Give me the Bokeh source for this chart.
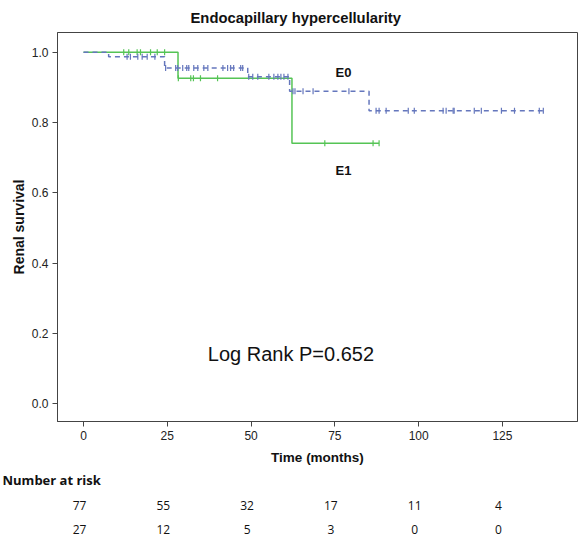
import math
from bokeh.plotting import figure
from bokeh.layouts import column
from bokeh.models import Range1d, Label, FixedTicker
from bokeh.core.properties import value
from bokeh.embed import file_html
from bokeh.resources import INLINE

# Kaplan-Meier steps
e0_times = [0, 7.5, 24.2, 49.0, 61.5, 85.2, 137.5]
e0_surv = [1.0, 0.987, 0.955, 0.930, 0.889, 0.833, 0.833]
e1_times = [0, 28.2, 62.2, 88.2]
e1_surv = [1.0, 0.926, 0.741, 0.741]

# censor marks
e0_cens_t = [13.0, 14.0, 16.2, 17.5, 19.0, 21.3,
             24.5, 27.5, 28.1, 29.6, 30.8, 31.4, 32.9, 34.1, 35.9, 37.1, 41.6, 43.0, 43.9, 44.8, 46.9, 47.5,
             49.3, 50.5, 52.0, 55.3, 56.8, 58.0, 58.9, 59.8, 61.0,
             62.5, 63.1, 65.5, 68.5, 79.2,
             87.3, 88.2, 90.3, 96.9, 98.7, 107.3, 108.2, 110.3, 110.6, 116.6, 118.7, 124.7, 128.6, 136.0, 137.2]
e0_cens_s = [0.987] * 6 + [0.955] * 16 + [0.930] * 9 + [0.889] * 5 + [0.833] * 15
e1_cens_t = [12.0, 13.5, 16.0, 17.0, 20.0, 22.0, 24.2,
             28.3, 32.0, 32.8, 34.9, 40.0,
             72.0, 86.4, 88.2]
e1_cens_s = [1.0] * 7 + [0.926] * 5 + [0.741] * 3

# number at risk
risk_times = [0, 25, 50, 75, 100, 125]
risk_e0 = ["77", "55", "32", "17", "11", "4"]
risk_e1 = ["27", "12", "5", "3", "0", "0"]

x_ticks = [0, 25, 50, 75, 100, 125]
y_ticks = [0.0, 0.2, 0.4, 0.6, 0.8, 1.0]

BLUE = "#6577bd"
GREEN = "#55c455"
AX = "#444444"

xr = Range1d(-7.76, 147.4)

p = figure(width=580, height=470, output_backend="svg", toolbar_location=None,
           x_range=xr, y_range=Range1d(-0.051, 1.056),
           min_border_left=57, min_border_right=3, min_border_top=32, min_border_bottom=49,
           title="Endocapillary hypercellularity")
p.title.text_font = "Liberation Sans"
p.title.text_font_size = "14.8px"
p.title.text_font_style = "bold"
p.title.text_color = "#111111"
p.title.align = "left"
p.title.offset = 133
p.title.standoff = 13
p.grid.visible = False
p.outline_line_color = AX
p.outline_line_width = 1

for ax in (p.xaxis[0], p.yaxis[0]):
    ax.axis_line_color = AX
    ax.major_tick_line_color = AX
    ax.minor_tick_line_color = None
    ax.major_tick_in = 0
    ax.major_tick_out = 5
    ax.major_label_text_font = "Liberation Sans"
    ax.major_label_text_font_size = "12px"
    ax.major_label_text_color = "#222222"
    ax.major_label_standoff = 4
    ax.axis_label_text_font = "Liberation Sans"
    ax.axis_label_text_font_style = "bold"
    ax.axis_label_text_font_size = "13.5px"
    ax.axis_label_text_color = "#111111"

p.yaxis.axis_label_text_font_size = "14px"
p.xaxis.ticker = FixedTicker(ticks=x_ticks)
p.yaxis.ticker = FixedTicker(ticks=y_ticks)
p.yaxis.major_label_overrides = {v: f"{v:.1f}" for v in y_ticks}
p.xaxis.axis_label = "Time (months)"
p.yaxis.axis_label = "Renal survival"
p.xaxis.axis_label_standoff = 7
p.yaxis.axis_label_standoff = 2

p.step(e1_times, e1_surv, mode="after", line_color=GREEN, line_width=1.5)
p.step(e0_times, e0_surv, mode="after", line_color=BLUE, line_width=1.5, line_dash="5 4")

p.scatter(e1_cens_t, e1_cens_s, marker="dash", angle=math.pi / 2, size=6,
          line_color=GREEN, line_width=1.2)
p.scatter(e0_cens_t, e0_cens_s, marker="dash", angle=math.pi / 2, size=6,
          line_color=BLUE, line_width=1.2)

def lab(x, y, text, size="13px", style="bold", font="Liberation Sans", align="center"):
    p.add_layout(Label(x=x, y=y, text=text, text_font=font, text_font_size=size,
                       text_font_style=style, text_align=align, text_baseline="middle",
                       text_color="#111111"))

lab(77.6, 0.942, "E0")
lab(77.6, 0.663, "E1")
lab(61.9, 0.142, "Log Rank P=0.652", size="20px", style="normal")

# number-at-risk table, sharing the time scale of the plot above
q = figure(width=580, height=67, output_backend="svg", toolbar_location=None,
           x_range=xr, y_range=Range1d(47, 0),
           x_axis_type=None, y_axis_type=None, title="Number at risk",
           min_border_left=57, min_border_right=3, min_border_top=0, min_border_bottom=0)
q.title.text_font = "Open Sans"
q.title.text_font_size = "13px"
q.title.text_font_style = "bold"
q.title.text_color = "#111111"
q.title.align = "left"
q.title.offset = -55
q.title.vertical_align = "top"
q.title.standoff = 0
q.grid.visible = False
q.outline_line_color = None

q.text(x=risk_times, y=[15] * 6, text=risk_e0, x_offset=-4, text_font=value("Open Sans"),
       text_font_size="12px", text_align="center", text_baseline="middle", text_color="#111111")
q.text(x=risk_times, y=[39] * 6, text=risk_e1, x_offset=-4, text_font=value("Open Sans"),
       text_font_size="12px", text_align="center", text_baseline="middle", text_color="#111111")

layout = column(p, q, spacing=0)
open("out.html", "w").write(file_html(layout, INLINE))
